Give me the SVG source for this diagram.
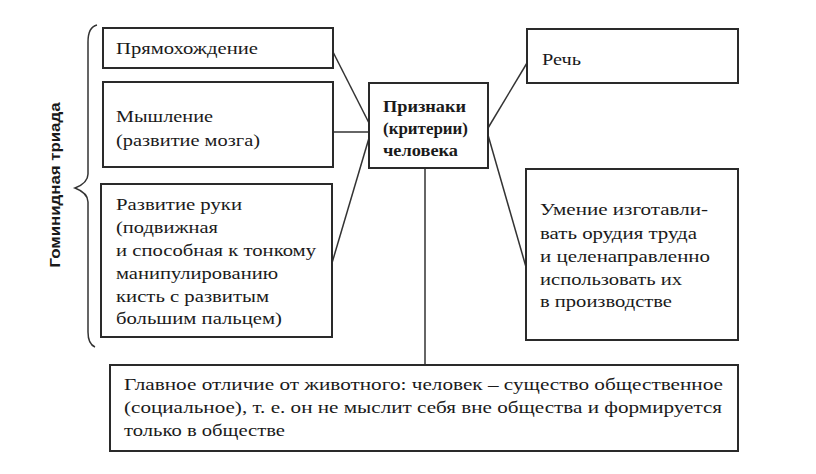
<svg xmlns="http://www.w3.org/2000/svg" width="816" height="474" viewBox="0 0 816 474">
<style>
.box{fill:#fff;stroke:#2a2a2a;stroke-width:2}
.ln{fill:none;stroke:#333;stroke-width:1.5}
text{font-family:"Liberation Serif","DejaVu Serif",serif;fill:#1a1a1a;font-size:17px}
.b{font-weight:bold}
.s{font-size:16px}
.lab{font-family:"Liberation Sans","DejaVu Sans",sans-serif;font-weight:bold;font-size:15px}
</style>
<rect width="816" height="474" fill="#fff"/>
<g id="connectors">
<line class="ln" x1="333" y1="52" x2="369" y2="123"/>
<line class="ln" x1="333" y1="132" x2="369" y2="132"/>
<line class="ln" x1="369" y1="138" x2="332" y2="263"/>
<line class="ln" x1="488" y1="128" x2="527" y2="63"/>
<line class="ln" x1="488" y1="135" x2="526" y2="267"/>
<line class="ln" x1="425" y1="168" x2="425" y2="365"/>
</g>
<g id="brace">
<path class="ln" d="M97,25 Q88,27 88,42 L88,174 Q88,183 75,188 Q88,193 88,202 L88,332 Q88,344 95,347"/>
<text class="lab" transform="translate(60,185) rotate(-90)" text-anchor="middle" textLength="165" lengthAdjust="spacingAndGlyphs">Гоминидная триада</text>
</g>
<g id="n1">
<rect class="box" x="103" y="28" width="230" height="40"/>
<text x="116" y="54" textLength="142" lengthAdjust="spacingAndGlyphs">Прямохождение</text>
</g>
<g id="n2">
<rect class="box" x="103" y="82" width="230" height="85"/>
<text x="116" y="122" textLength="97" lengthAdjust="spacingAndGlyphs">Мышление</text>
<text x="116" y="146" textLength="144" lengthAdjust="spacingAndGlyphs">(развитие мозга)</text>
</g>
<g id="n3">
<rect class="box" x="101" y="184" width="231" height="153"/>
<text x="116" y="210" textLength="126" lengthAdjust="spacingAndGlyphs">Развитие руки</text>
<text x="116" y="233" textLength="102" lengthAdjust="spacingAndGlyphs">(подвижная</text>
<text x="116" y="256" textLength="200" lengthAdjust="spacingAndGlyphs">и способная к тонкому</text>
<text x="116" y="279" textLength="162" lengthAdjust="spacingAndGlyphs">манипулированию</text>
<text x="116" y="302" textLength="153" lengthAdjust="spacingAndGlyphs">кисть с развитым</text>
<text x="116" y="324" textLength="166" lengthAdjust="spacingAndGlyphs">большим пальцем)</text>
</g>
<g id="center">
<rect class="box" x="369" y="83" width="119" height="85"/>
<text class="b" x="383" y="112" textLength="83" lengthAdjust="spacingAndGlyphs">Признаки</text>
<text class="b" x="383" y="134" textLength="85" lengthAdjust="spacingAndGlyphs">(критерии)</text>
<text class="b" x="383" y="156" textLength="75" lengthAdjust="spacingAndGlyphs">человека</text>
</g>
<g id="n4">
<rect class="box" x="527" y="29" width="211" height="54"/>
<text x="542" y="65" textLength="39" lengthAdjust="spacingAndGlyphs">Речь</text>
</g>
<g id="n5">
<rect class="box" x="526" y="169" width="212" height="171"/>
<text x="540" y="215" textLength="168" lengthAdjust="spacingAndGlyphs">Умение изготавли-</text>
<text x="540" y="239" textLength="157" lengthAdjust="spacingAndGlyphs">вать орудия труда</text>
<text x="540" y="262" textLength="170" lengthAdjust="spacingAndGlyphs">и целенаправленно</text>
<text x="540" y="285" textLength="142" lengthAdjust="spacingAndGlyphs">использовать их</text>
<text x="540" y="307" textLength="132" lengthAdjust="spacingAndGlyphs">в производстве</text>
</g>
<g id="n6">
<rect class="box" x="110" y="365" width="628" height="86"/>
<text class="s" x="124" y="390" textLength="599" lengthAdjust="spacingAndGlyphs">Главное отличие от животного: человек  – существо общественное</text>
<text class="s" x="124" y="413" textLength="598" lengthAdjust="spacingAndGlyphs">(социальное), т. е. он не мыслит себя вне общества и формируется</text>
<text class="s" x="124" y="436" textLength="161" lengthAdjust="spacingAndGlyphs">только в обществе</text>
</g>
</svg>
